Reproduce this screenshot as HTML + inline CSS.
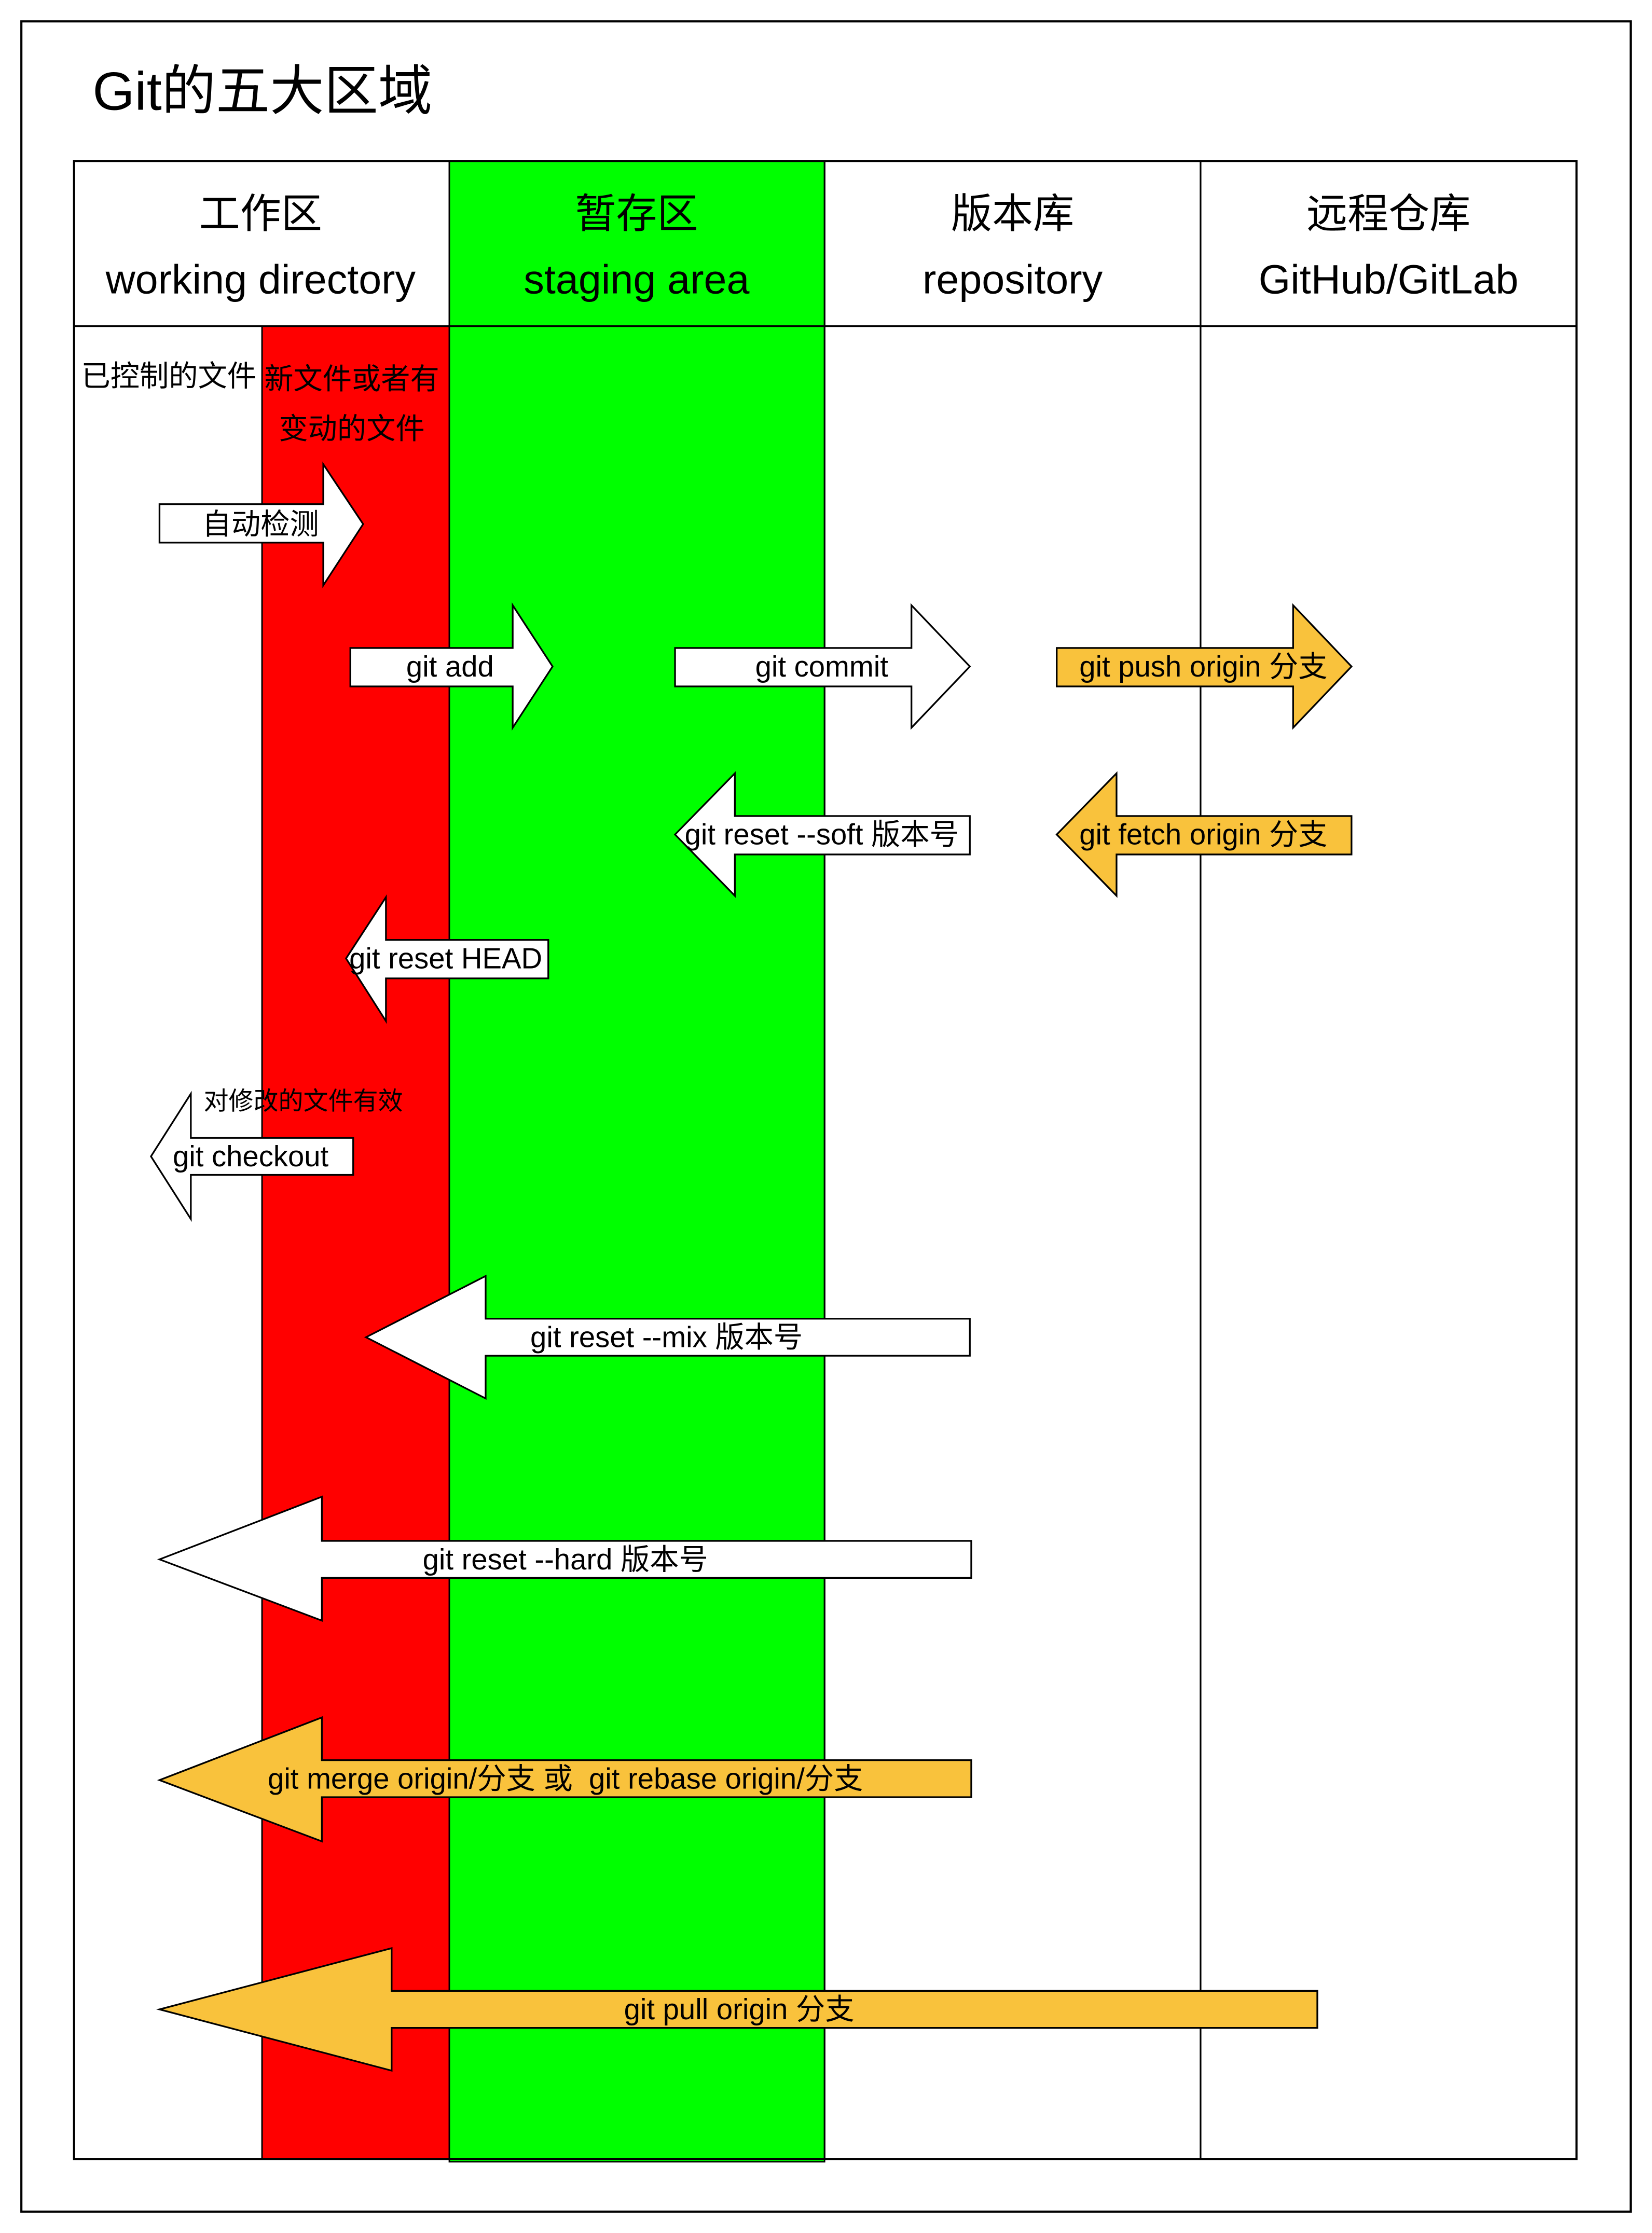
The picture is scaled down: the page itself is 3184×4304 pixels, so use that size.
<!DOCTYPE html>
<html><head><meta charset="utf-8"><style>
html,body{margin:0;padding:0;background:#fff;}
svg{display:block}
text{font-family:"Liberation Sans","Noto Sans CJK SC",sans-serif;fill:#000;white-space:pre}
</style></head><body>
<svg width="3184" height="4304" viewBox="0 0 1160 1568" xmlns="http://www.w3.org/2000/svg">
<rect x="0" y="0" width="1160" height="1568" fill="#fff"/>
<rect x="15" y="15" width="1130" height="1538" fill="none" stroke="#000" stroke-width="1.5"/>
<text x="65" y="77" font-size="38">Git的五大区域</text>
<rect x="315.5" y="113" width="263.5" height="1405" fill="#00ff00" stroke="#000" stroke-width="1"/>
<rect x="184" y="229" width="131.5" height="1287" fill="#ff0000" stroke="#000" stroke-width="1"/>
<rect x="52" y="113" width="1055" height="1403" fill="none" stroke="#000" stroke-width="1.5"/>
<line x1="52" y1="229" x2="1107" y2="229" stroke="#000" stroke-width="1.2"/>
<line x1="579" y1="113" x2="579" y2="1516" stroke="#000" stroke-width="1.2"/>
<line x1="843" y1="113" x2="843" y2="1516" stroke="#000" stroke-width="1.2"/>
<line x1="184" y1="229" x2="184" y2="1516" stroke="#000" stroke-width="1"/>
<line x1="315.5" y1="113" x2="315.5" y2="1516" stroke="#000" stroke-width="1"/>
<g font-size="28.8" text-anchor="middle">
<text x="183" y="160">工作区</text><text x="183" y="206">working directory</text>
<text x="447" y="160">暂存区</text><text x="447" y="206">staging area</text>
<text x="711" y="160">版本库</text><text x="711" y="206">repository</text>
<text x="975" y="160">远程仓库</text><text x="975" y="206">GitHub/GitLab</text>
</g>
<g font-size="20.5">
<text x="57" y="271">已控制的文件</text>
<text x="247" y="273" text-anchor="middle">新文件或者有</text>
<text x="247" y="308" text-anchor="middle">变动的文件</text>
</g>
<g stroke="#000" stroke-width="1.2">
<polygon fill="#fff" points="112,354 227,354 227,326 255,368 227,411 227,381 112,381"/>
<polygon fill="#fff" points="246,455 360,455 360,425 388,468 360,511 360,482 246,482"/>
<polygon fill="#fff" points="474,455 640,455 640,425 681,468 640,511 640,482 474,482"/>
<polygon fill="#f9c23c" points="742,455 908,455 908,425 949,468 908,511 908,482 742,482"/>
<polygon fill="#fff" points="474,586 516,543 516,573 681,573 681,600 516,600 516,629"/>
<polygon fill="#f9c23c" points="742,586 784,543 784,573 949,573 949,600 784,600 784,629"/>
<polygon fill="#fff" points="243,673 271,630 271,660 385,660 385,687 271,687 271,717"/>
<polygon fill="#fff" points="106,812 134,768 134,799 248,799 248,825 134,825 134,856"/>
<polygon fill="#fff" points="257,939 341,896 341,926 681,926 681,952 341,952 341,982"/>
<polygon fill="#fff" points="112,1095 226,1051 226,1082 682,1082 682,1108 226,1108 226,1138"/>
<polygon fill="#f9c23c" points="112,1250 226,1206 226,1236 682,1236 682,1262 226,1262 226,1293"/>
<polygon fill="#f9c23c" points="112,1411 275,1368 275,1398 925,1398 925,1424 275,1424 275,1454"/>
</g>
<g font-size="20.5" text-anchor="middle">
<text x="183" y="375">自动检测</text>
<text x="316" y="475">git add</text>
<text x="577" y="475">git commit</text>
<text x="845" y="475">git push origin 分支</text>
<text x="577" y="593">git reset --soft 版本号</text>
<text x="845" y="593">git fetch origin 分支</text>
<text x="313" y="680">git reset HEAD</text>
<text x="176" y="819">git checkout</text>
<text x="468" y="946">git reset --mix 版本号</text>
<text x="397" y="1102">git reset --hard 版本号</text>
<text x="397" y="1256">git merge origin/分支 或  git rebase origin/分支</text>
<text x="519" y="1418">git pull origin 分支</text>
</g>
<text x="143" y="779" font-size="17.5">对修改的文件有效</text>
</svg>
</body></html>
